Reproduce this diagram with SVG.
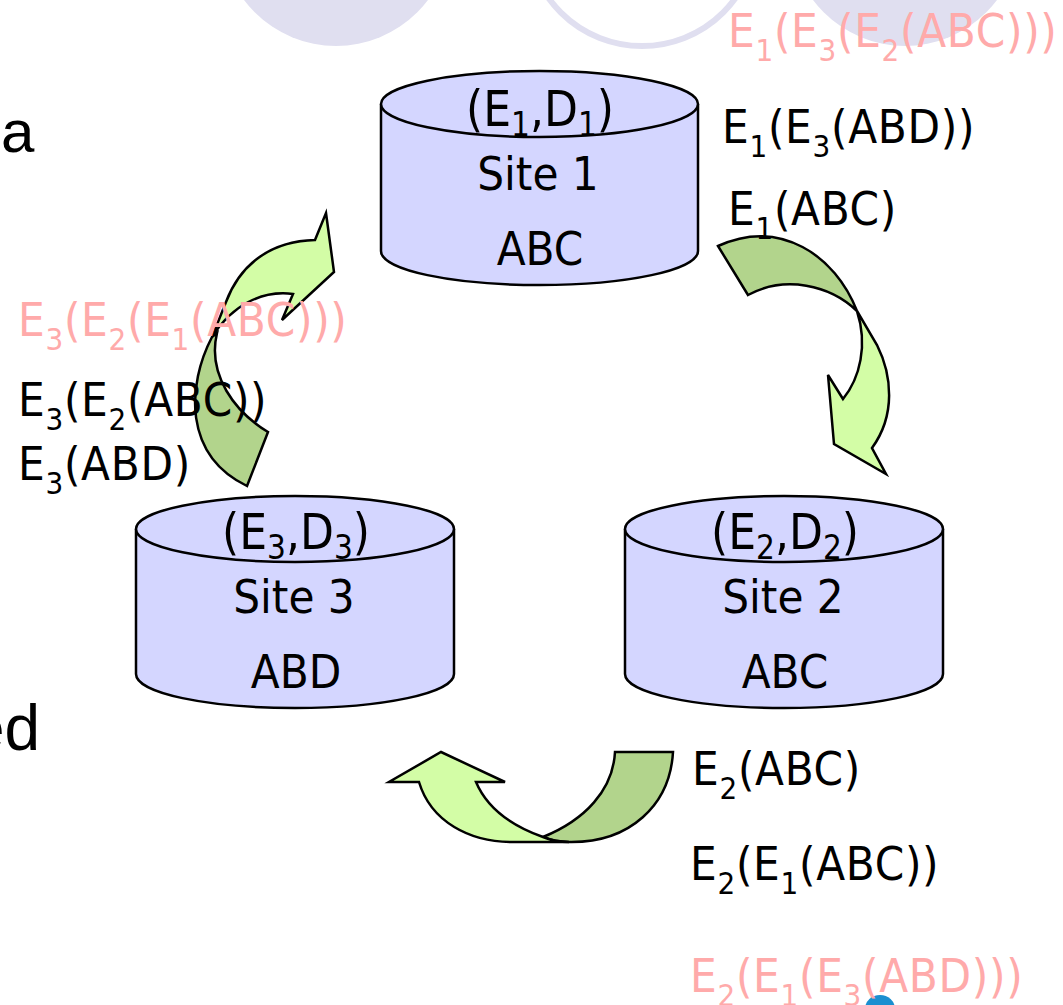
<svg xmlns="http://www.w3.org/2000/svg" width="1063" height="1005" viewBox="0 0 1063 1005">
<style>
text{font-family:"DejaVu Sans Condensed","DejaVu Sans",sans-serif;font-stretch:condensed;font-size:47px;fill:#000}
.l{letter-spacing:.7px}
.k{font-size:49px}
.p{fill:#ffaaaa}
.m{text-anchor:middle}
.s{font-size:31px}
.k .s{font-size:33px}
.body{font-family:"Liberation Sans",Arial,sans-serif;font-stretch:normal;font-size:64px}
.cyl{fill:#d4d6ff;stroke:#000;stroke-width:2.500}
.lt{fill:#d3fda6;stroke:#000;stroke-width:2.500;stroke-linejoin:miter}
.dk{fill:#b2d48c;stroke:#000;stroke-width:2.500;stroke-linejoin:miter}
</style>
<g id="background">
<circle cx="336" cy="-69" r="115" fill="#e0dff0"/>
<circle cx="642" cy="-69" r="115" fill="none" stroke="#e0dff0" stroke-width="6"/>
<circle cx="905" cy="-69" r="115" fill="#e0dff0"/>
<text class="body" x="1" y="152" style="font-size:60px">a</text>
<text class="body" x="-31" y="750">ed</text>
</g>
<g id="site1">
<path class="cyl" d="M381 104V251C381 270 452 285 539.500 285S698 270 698 251V104"/>
<ellipse class="cyl" cx="539.500" cy="104" rx="158.500" ry="33"/>
<text class="k" x="466" y="126">(E<tspan class="s" dy="10">1</tspan><tspan dy="-10">,D</tspan><tspan class="s" dy="10">1</tspan><tspan dy="-10">)</tspan></text>
<text class="m" x="538" y="190">Site 1</text>
<text class="m" x="540" y="265">ABC</text>
</g>
<g id="site2">
<path class="cyl" d="M625 529V674C625 693 696 708 784 708S943 693 943 674V529"/>
<ellipse class="cyl" cx="784" cy="529" rx="159" ry="33"/>
<text class="k" x="711" y="549">(E<tspan class="s" dy="10">2</tspan><tspan dy="-10">,D</tspan><tspan class="s" dy="10">2</tspan><tspan dy="-10">)</tspan></text>
<text class="m" x="783" y="613">Site 2</text>
<text class="m" x="785" y="688">ABC</text>
</g>
<g id="site3">
<path class="cyl" d="M136 529V674C136 693 207 708 295 708S454 693 454 674V529"/>
<ellipse class="cyl" cx="295" cy="529" rx="159" ry="33"/>
<text class="k" x="222" y="549">(E<tspan class="s" dy="10">3</tspan><tspan dy="-10">,D</tspan><tspan class="s" dy="10">3</tspan><tspan dy="-10">)</tspan></text>
<text class="m" x="294" y="613">Site 3</text>
<text class="m" x="296" y="688">ABD</text>
</g>
<g id="connectors">
<path class="lt" d="M857 311L877 345C892 375 896 415 872 448L886 474L834 444L828 375L843 399C860 378 868 345 857 311Z"/>
<path class="dk" d="M718 246C780 218 835 255 857 311C830 285 785 275 748 295Z"/>
<path class="lt" d="M326 213L334 272L282 320L293 294C262 290 232 305 212 337L226 302C240 265 270 241 315 240Z"/>
<path class="dk" d="M212 337C187 385 183 455 247 486L268 432C235 412 207 375 217 333Z"/>
<path class="dk" d="M615 752H673C670 805 630 843 569 842Q555 842 543 837C585 820 613 790 615 752Z"/>
<path class="lt" d="M441 752L505 782H476C487 808 512 826 543 837Q555 842 569 842H512C470 842 431 822 419 782H389Z"/>
</g>
<g id="labels">
<text class="p l" x="728" y="47">E<tspan class="s" dy="14">1</tspan><tspan dy="-14">(E</tspan><tspan class="s" dy="14">3</tspan><tspan dy="-14">(E</tspan><tspan class="s" dy="14">2</tspan><tspan dy="-14">(ABC)))</tspan></text>
<text class="l" x="722" y="143">E<tspan class="s" dy="14">1</tspan><tspan dy="-14">(E</tspan><tspan class="s" dy="14">3</tspan><tspan dy="-14">(ABD))</tspan></text>
<text class="l" x="728" y="225">E<tspan class="s" dy="14">1</tspan><tspan dy="-14">(ABC)</tspan></text>
<text class="p l" x="18" y="336">E<tspan class="s" dy="14">3</tspan><tspan dy="-14">(E</tspan><tspan class="s" dy="14">2</tspan><tspan dy="-14">(E</tspan><tspan class="s" dy="14">1</tspan><tspan dy="-14">(ABC)))</tspan></text>
<text class="l" x="18" y="416">E<tspan class="s" dy="14">3</tspan><tspan dy="-14">(E</tspan><tspan class="s" dy="14">2</tspan><tspan dy="-14">(ABC))</tspan></text>
<text class="l" x="18" y="480">E<tspan class="s" dy="14">3</tspan><tspan dy="-14">(ABD)</tspan></text>
<text class="l" x="692" y="785">E<tspan class="s" dy="14">2</tspan><tspan dy="-14">(ABC)</tspan></text>
<text class="l" x="690" y="880">E<tspan class="s" dy="14">2</tspan><tspan dy="-14">(E</tspan><tspan class="s" dy="14">1</tspan><tspan dy="-14">(ABC))</tspan></text>
<ellipse cx="880" cy="1009" rx="15" ry="14" fill="#1a8fd0"/>
<text class="p l" x="690" y="992">E<tspan class="s" dy="14">2</tspan><tspan dy="-14">(E</tspan><tspan class="s" dy="14">1</tspan><tspan dy="-14">(E</tspan><tspan class="s" dy="14">3</tspan><tspan dy="-14">(ABD)))</tspan></text>
</g>
</svg>
